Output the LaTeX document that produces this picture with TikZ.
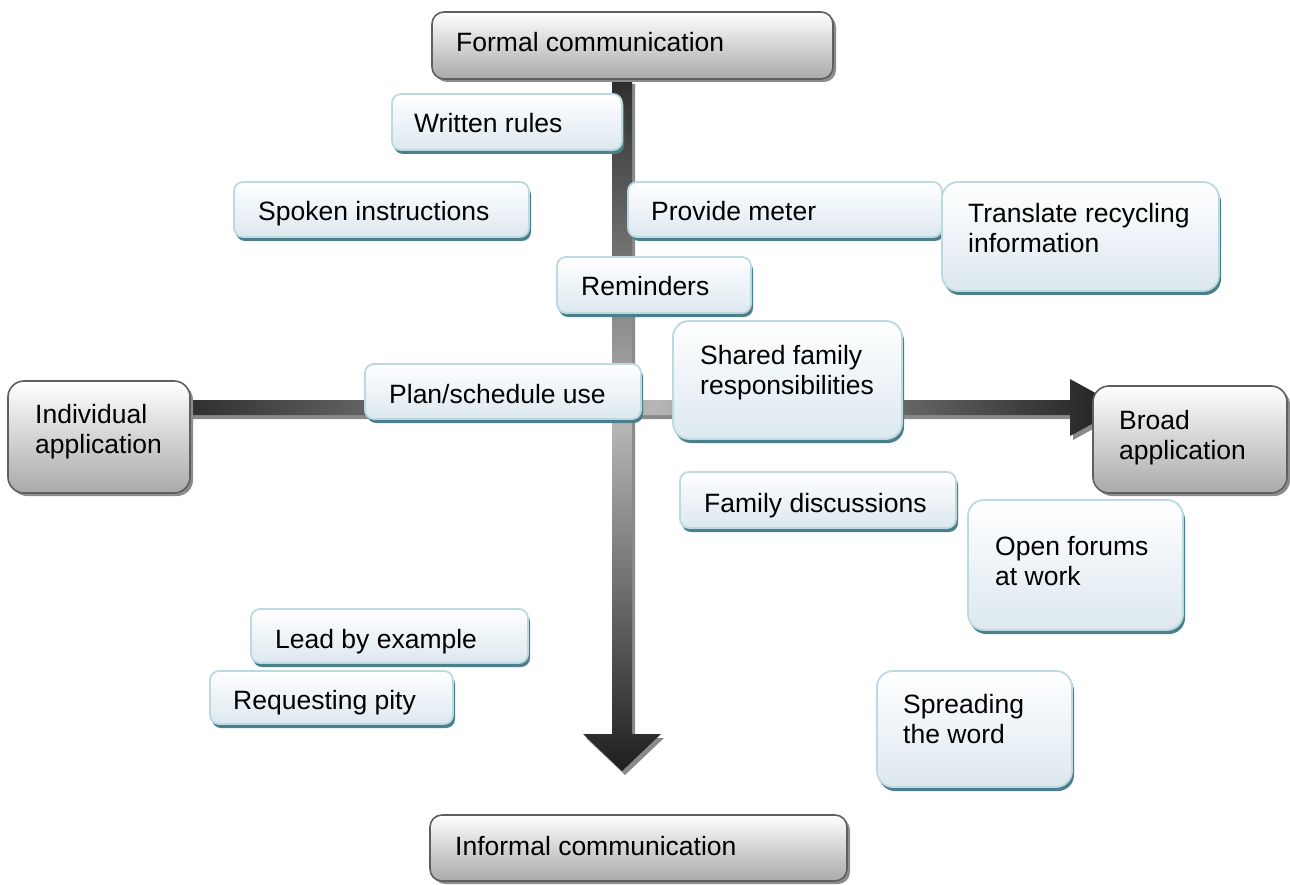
\documentclass[tikz,border=0pt]{standalone}
\usepackage{fontspec}
\setmainfont{Liberation Sans}
\usetikzlibrary{calc,backgrounds}

\definecolor{axisedge}{HTML}{5F5F5F}
\definecolor{axisbottom}{HTML}{A9A9A9}
\definecolor{axisshadow}{HTML}{8C8C8C}
\definecolor{noteedge}{HTML}{BCD9E1}
\definecolor{notebottom}{HTML}{DCE8EF}
\definecolor{noteshadow}{HTML}{4B7F8C}
\definecolor{arrowdark}{HTML}{2E2E2E}
\definecolor{arrowdeep}{HTML}{1E1E1E}
\definecolor{arrowlight}{HTML}{B6B6B6}
\definecolor{arrowshadow}{HTML}{8A8A8A}

\tikzset{
  axisbox/.style={draw=axisedge, line width=1.6pt, top color=white,
    bottom color=axisbottom, inner sep=0pt,
    preaction={fill=axisshadow, transform canvas={shift={(3pt,-3pt)}}}},
  notebox/.style={draw=noteedge, line width=1.8pt, top color=white,
    bottom color=notebottom, inner sep=0pt,
    preaction={fill=noteshadow, transform canvas={shift={(2pt,-4pt)}}}},
  boxtxt/.style={anchor=base west, inner sep=0pt, text=black,
    font=\fontsize{26.5}{30}\selectfont},
  arrowshade/.style={fill=arrowshadow},
}

% rounded panel given by its corners: style, name, x1, y1, x2, y2, radius
\newcommand{\panel}[7]{%
  \node[#1, rounded corners=#7pt, minimum width={(#5-#3)*1pt},
        minimum height={(#6-#4)*1pt}] (#2) at ({(#3+#5)/2},{(#4+#6)/2}) {};}
% text block: name, left x, first baseline y, lines
\newcommand{\boxtext}[4]{%
  \node[boxtxt] (#1) at (#2,#3) {\parbox[t]{420pt}{#4}};}

\begin{document}
\begin{tikzpicture}[x=1pt,y=-1pt]
\useasboundingbox (0,0) rectangle (1290,885);

% axis end boxes
\panel{axisbox}{formal}{432}{12}{833}{79}{12}
\boxtext{formalt}{456}{52}{Formal communication}
\panel{axisbox}{indiv}{8}{381}{190}{493}{16}
\boxtext{indivt}{35}{423}{Individual\\application}
\panel{axisbox}{broad}{1093}{386}{1287}{493}{16}
\boxtext{broadt}{1119}{429}{Broad\\application}
\panel{axisbox}{informal}{430}{815}{847}{881}{12}
\boxtext{informalt}{455}{855}{Informal communication}

% the two axes, behind every box
\begin{scope}[on background layer]
  \coordinate (vstart) at (formal.south -| 622,0);
  \coordinate (vtip) at (622,771);
  \coordinate (hstart) at ($(indiv.east |- 0,407.5)+(-6,0)$);
  \coordinate (htip) at (1122,407.5);
  % shadows
  \begin{scope}[transform canvas={shift={(3pt,-4pt)}}]
    \fill[arrowshade] ($(vstart)+(-10,0)$) -- ($(vstart)+(10,0)$)
      -- ($(vtip)+(10,-37)$) -- ($(vtip)+(39,-37)$) -- (vtip)
      -- ($(vtip)+(-39,-37)$) -- ($(vtip)+(-10,-37)$) -- cycle;
    \fill[arrowshade] ($(hstart)+(0,-7.5)$) -- ($(htip)+(-52,-7.5)$)
      -- ($(htip)+(-52,-28.5)$) -- (htip) -- ($(htip)+(-52,28.5)$)
      -- ($(htip)+(-52,7.5)$) -- ($(hstart)+(0,7.5)$) -- cycle;
  \end{scope}
  % formal -> informal
  \shade[top color=arrowdark, bottom color=arrowdeep, middle color=arrowlight]
    ($(vstart)+(-10,0)$) -- ($(vstart)+(10,0)$)
    -- ($(vtip)+(10,-37)$) -- ($(vtip)+(39,-37)$) -- (vtip)
    -- ($(vtip)+(-39,-37)$) -- ($(vtip)+(-10,-37)$) -- cycle;
  % individual -> broad
  \shade[left color=arrowdark, right color=arrowdeep, middle color=arrowlight]
    ($(hstart)+(0,-7.5)$) -- ($(htip)+(-52,-7.5)$)
    -- ($(htip)+(-52,-28.5)$) -- (htip) -- ($(htip)+(-52,28.5)$)
    -- ($(htip)+(-52,7.5)$) -- ($(hstart)+(0,7.5)$) -- cycle;
\end{scope}

% communication methods
\panel{notebox}{written}{392}{94}{622}{150}{9}
\boxtext{writtent}{414}{133}{Written rules}
\panel{notebox}{spoken}{234}{182}{529}{237}{9}
\boxtext{spokent}{258}{221}{Spoken instructions}
\panel{notebox}{meter}{628}{182}{942}{237}{9}
\boxtext{metert}{651}{221}{Provide meter}
\panel{notebox}{translate}{942}{182}{1219}{291}{16}
\boxtext{translatet}{968}{223}{Translate recycling\\information}
\panel{notebox}{reminders}{557}{257}{751}{313}{9}
\boxtext{reminderst}{581}{296}{Reminders}
\panel{notebox}{shared}{673}{321}{902}{439}{16}
\boxtext{sharedt}{700}{364}{Shared family\\responsibilities}
\panel{notebox}{plan}{365}{364}{641}{419}{9}
\boxtext{plant}{389}{403}{Plan/schedule use}
\panel{notebox}{famdisc}{680}{472}{956}{528}{9}
\boxtext{famdisct}{704}{512}{Family discussions}
\panel{notebox}{forums}{968}{500}{1183}{630}{16}
\boxtext{forumst}{995}{555}{Open forums\\at work}
\panel{notebox}{lead}{251}{609}{528}{663}{9}
\boxtext{leadt}{275}{648}{Lead by example}
\panel{notebox}{pity}{210}{671}{453}{724}{9}
\boxtext{pityt}{233}{709}{Requesting pity}
\panel{notebox}{spreading}{877}{671}{1072}{787}{16}
\boxtext{spreadingt}{903}{713}{Spreading\\the word}
\end{tikzpicture}
\end{document}
